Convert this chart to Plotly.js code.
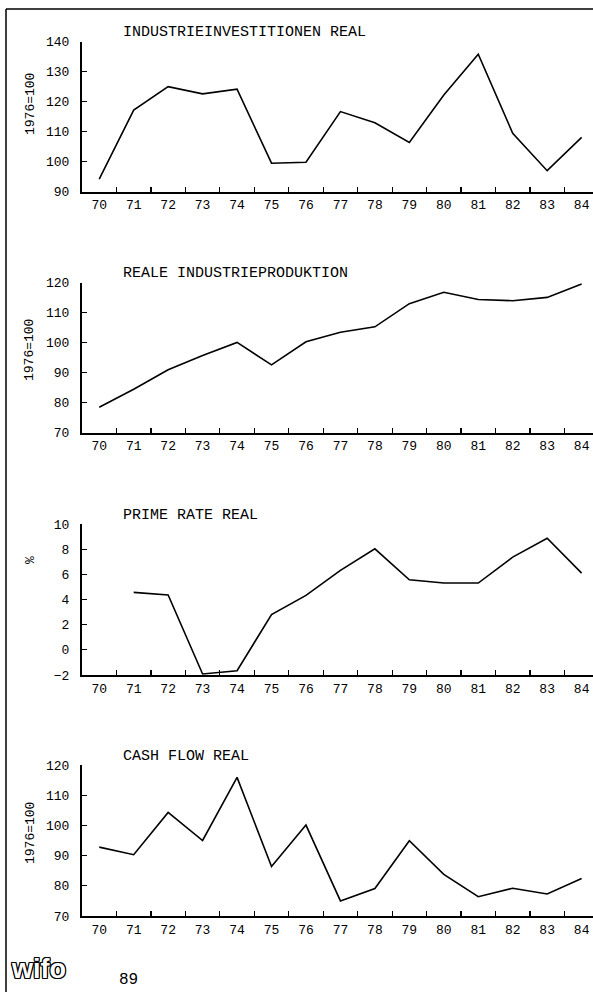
<!DOCTYPE html>
<html><head><meta charset="utf-8">
<script src="https://cdn.plot.ly/plotly-3.0.1.min.js"></script>
<style>html,body{margin:0;padding:0;background:#fff}#chart{width:593px;height:992px}</style>
</head><body><div id="chart"></div><script>
// ---- data ----
const years = ['70','71','72','73','74','75','76','77','78','79','80','81','82','83','84'];
const investitionen = [94.2, 117.2, 125.0, 122.6, 124.2, 99.5, 99.8, 116.7, 113.0, 106.4, 122.2, 135.8, 109.5, 97.0, 108.1];
const produktion = [78.5, 84.5, 91.0, 95.7, 100.1, 92.6, 100.3, 103.5, 105.3, 113.0, 116.8, 114.4, 114.0, 115.1, 119.6];
const primeRate = [null, 4.57, 4.36, -1.92, -1.66, 2.80, 4.33, 6.31, 8.03, 5.57, 5.31, 5.31, 7.37, 8.87, 6.10];
const cashFlow = [92.8, 90.3, 104.3, 95.0, 115.9, 86.4, 100.1, 75.0, 79.1, 94.9, 83.8, 76.4, 79.2, 77.3, 82.4];
const panelTitles = ['INDUSTRIEINVESTITIONEN REAL', 'REALE INDUSTRIEPRODUKTION', 'PRIME RATE REAL', 'CASH FLOW REAL'];
const unitLabels = ['1976=100', '1976=100', '%', '1976=100'];
const yRanges = [[90, 140], [70, 120], [-2, 10], [70, 120]];
const yDticks = [10, 10, 2, 10];

// ---- layout helpers (pixel geometry of the page) ----
const W = 593, H = 992;
const px = v => v / W;
const py = v => 1 - v / H;
const plotTops = [41.7, 282.7, 524, 765];
const plotBottoms = [191.7, 432.7, 675, 916];
const unitY = [104, 350, 560, 833];
const mono = 'Liberation Mono, DejaVu Sans Mono, monospace';

const series = [investitionen, produktion, primeRate, cashFlow];
const data = series.map((vals, i) => ({
  type: 'scatter', mode: 'lines',
  x: years, y: vals,
  xaxis: i === 0 ? 'x' : 'x' + (i + 1),
  yaxis: i === 0 ? 'y' : 'y' + (i + 1),
  connectgaps: false,
  line: {color: '#000', width: 1.6},
  hoverinfo: 'x+y', showlegend: false
}));

const layout = {
  width: W, height: H,
  margin: {l: 0, r: 0, t: 0, b: 0, pad: 0},
  paper_bgcolor: '#fff', plot_bgcolor: '#fff',
  showlegend: false,
  font: {family: mono, color: '#000', size: 13},
  annotations: [], shapes: []
};

for (let i = 0; i < 4; i++) {
  const sfx = i === 0 ? '' : String(i + 1);
  layout['xaxis' + sfx] = {
    type: 'category', domain: [px(82), 1], range: [-0.5, 14.33],
    anchor: 'y' + sfx,
    showline: true, linewidth: 2, linecolor: '#000',
    ticks: 'inside', ticklen: 5, tickwidth: 1.2, tickcolor: '#000',
    tickson: 'boundaries', showgrid: false, zeroline: false,
    ticklabelstandoff: 0,
    tickfont: {family: mono, size: 13, color: '#000'}
  };
  layout['yaxis' + sfx] = {
    domain: [py(plotBottoms[i]), py(plotTops[i])],
    range: yRanges[i], tick0: yRanges[i][0], dtick: yDticks[i],
    anchor: 'x' + sfx,
    showline: true, linewidth: 2, linecolor: '#000',
    ticks: 'inside', ticklen: 5, tickwidth: 1.2, tickcolor: '#000',
    showgrid: false, zeroline: false,
    ticklabelstandoff: 8,
    tickfont: {family: mono, size: 13, color: '#000'}
  };
  layout.annotations.push({
    xref: 'paper', yref: 'paper', x: px(121), y: py(plotTops[i] - 9),
    xanchor: 'left', yanchor: 'middle', showarrow: false,
    text: panelTitles[i], font: {family: mono, size: 15, color: '#000'}
  });
  layout.annotations.push({
    xref: 'paper', yref: 'paper', x: px(30), y: py(unitY[i]),
    xanchor: 'center', yanchor: 'middle', showarrow: false, textangle: -90,
    text: unitLabels[i], font: {family: mono, size: 13, color: '#000'}
  });
}

// logo and page number
layout.annotations.push({
  xref: 'paper', yref: 'paper', x: px(9), y: py(986),
  xanchor: 'left', yanchor: 'bottom', showarrow: false,
  text: 'wifo',
  font: {family: 'Liberation Sans, Arial, sans-serif', size: 27, weight: 700, color: '#fff',
         shadow: '-1px 0 #000, 1px 0 #000, 0 -1px #000, 0 1px #000, -1px -1px #000, 1px 1px #000, -1px 1px #000, 1px -1px #000'}
});
layout.annotations.push({
  xref: 'paper', yref: 'paper', x: px(117), y: py(980),
  xanchor: 'left', yanchor: 'middle', showarrow: false,
  text: '89', font: {family: mono, size: 16, color: '#000'}
});

// page frame (left and top edges of the scanned sheet)
layout.shapes.push({type: 'line', xref: 'paper', yref: 'paper', x0: px(6), x1: px(6), y0: 0, y1: py(9), line: {color: '#000', width: 1.5}});
layout.shapes.push({type: 'line', xref: 'paper', yref: 'paper', x0: px(6), x1: 1, y0: py(9), y1: py(9), line: {color: '#000', width: 1.5}});

Plotly.newPlot('chart', data, layout, {displayModeBar: false, staticPlot: true});
</script></body></html>
